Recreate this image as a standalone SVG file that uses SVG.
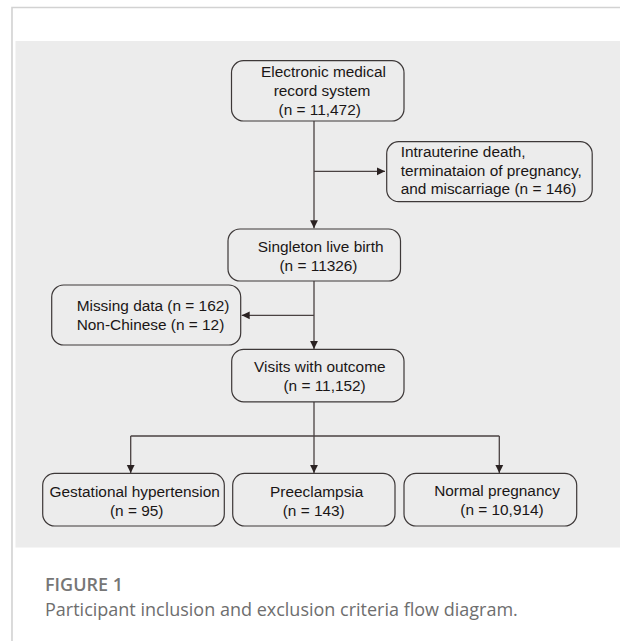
<svg xmlns="http://www.w3.org/2000/svg" width="620" height="641" viewBox="0 0 620 641">
  <style>
    .box { fill: #ececec; stroke: #3d3838; stroke-width: 1.2; }
    .t { font-family: "Liberation Sans", Arial, sans-serif; font-size: 15.4px; fill: #1a1616; }
    .c { text-anchor: middle; }
    .conn { stroke: #4a4242; stroke-width: 1.3; fill: none; }
    .cap { font-family: "Open Sans", "Noto Sans", sans-serif; }
  </style>
  <defs>
    <marker id="arr" markerUnits="userSpaceOnUse" markerWidth="10" markerHeight="10" viewBox="0 0 10 10" refX="9" refY="5" orient="auto">
      <path d="M1,1.1 L9,5 L1,8.9 Z" fill="#2a2222"/>
    </marker>
  </defs>

  <!-- frame and background -->
  <path d="M12,641 V7.5 H620" fill="none" stroke="#d2d2d2" stroke-width="1.6"/>
  <rect x="15.5" y="41" width="604.5" height="506.5" fill="#ececec"/>

  <g id="connectors">
    <line class="conn" x1="314" y1="121" x2="314" y2="228.3" marker-end="url(#arr)"/>
    <line class="conn" x1="314" y1="171.3" x2="385" y2="171.3" marker-end="url(#arr)"/>
    <line class="conn" x1="314" y1="281" x2="314" y2="349" marker-end="url(#arr)"/>
    <line class="conn" x1="314" y1="315.3" x2="241.7" y2="315.3" marker-end="url(#arr)"/>
    <line class="conn" x1="314" y1="402" x2="314" y2="473" marker-end="url(#arr)"/>
    <line class="conn" x1="130.7" y1="436" x2="499.3" y2="436"/>
    <line class="conn" x1="130.7" y1="436" x2="130.7" y2="473" marker-end="url(#arr)"/>
    <line class="conn" x1="499.3" y1="436" x2="499.3" y2="473" marker-end="url(#arr)"/>
  </g>

  <g id="node-emr">
    <rect class="box" x="231.5" y="60.7" width="172.5" height="60.3" rx="12"/>
    <text class="t c" x="323.5" y="76.5">Electronic medical</text>
    <text class="t c" x="322" y="95.5">record system</text>
    <text class="t c" x="319.7" y="114.5">(n = 11,472)</text>
  </g>

  <g id="node-excl1">
    <rect class="box" x="386.7" y="141.7" width="205.5" height="60" rx="12"/>
    <text class="t" x="400.7" y="157">Intrauterine death,</text>
    <text class="t" x="400.7" y="175.5">terminataion of pregnancy,</text>
    <text class="t" x="400.7" y="194">and miscarriage (n = 146)</text>
  </g>

  <g id="node-singleton">
    <rect class="box" x="228" y="229" width="172.5" height="52" rx="12"/>
    <text class="t c" x="320.7" y="252">Singleton live birth</text>
    <text class="t c" x="318.5" y="271">(n = 11326)</text>
  </g>

  <g id="node-excl2">
    <rect class="box" x="51.7" y="285" width="189" height="60" rx="12"/>
    <text class="t" x="76.7" y="311">Missing data (n = 162)</text>
    <text class="t" x="76.7" y="329.7">Non-Chinese (n = 12)</text>
  </g>

  <g id="node-visits">
    <rect class="box" x="231.7" y="349.3" width="172.3" height="52.5" rx="12"/>
    <text class="t c" x="319.8" y="372">Visits with outcome</text>
    <text class="t c" x="324.6" y="391">(n = 11,152)</text>
  </g>

  <g id="node-gh">
    <rect class="box" x="42.7" y="473.3" width="181.6" height="52.7" rx="12"/>
    <text class="t c" x="134.7" y="496.5">Gestational hypertension</text>
    <text class="t c" x="136.7" y="515.5">(n = 95)</text>
  </g>

  <g id="node-pe">
    <rect class="box" x="232.7" y="473.3" width="162.3" height="52.7" rx="12"/>
    <text class="t c" x="316.7" y="497">Preeclampsia</text>
    <text class="t c" x="313.7" y="516">(n = 143)</text>
  </g>

  <g id="node-normal">
    <rect class="box" x="404" y="473.3" width="172.7" height="52.7" rx="12"/>
    <text class="t c" x="497" y="495.5">Normal pregnancy</text>
    <text class="t c" x="502" y="515">(n = 10,914)</text>
  </g>

  <text class="cap" x="45" y="591" font-size="18" font-weight="600" fill="#767676">FIGURE 1</text>
  <text class="cap" x="45" y="616" font-size="18" fill="#6e6e6e">Participant inclusion and exclusion criteria flow diagram.</text>
</svg>
